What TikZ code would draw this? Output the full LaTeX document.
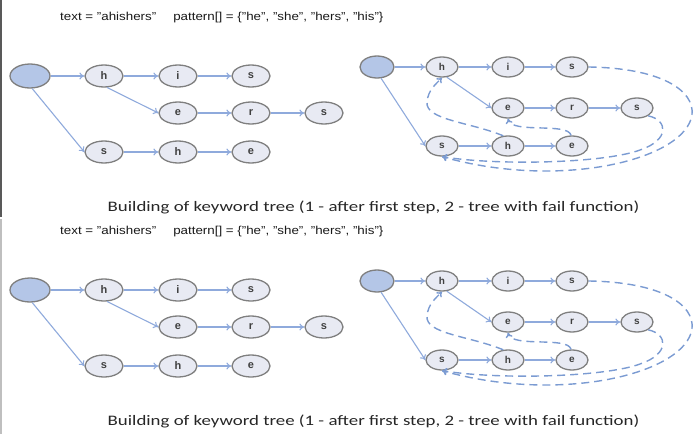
\documentclass[tikz,border=0pt]{standalone}
\usepackage{fontspec}
\setmainfont{Liberation Sans}
\newfontfamily\capfont{Carlito}
\usetikzlibrary{shapes.geometric,arrows.meta}
\definecolor{edgeblue}{HTML}{8FAADC}
\definecolor{dashblue}{HTML}{7B9BD2}
\definecolor{nodegray}{HTML}{7F7F7F}
\definecolor{nodefill}{HTML}{E8EAF3}
\definecolor{rootfill}{HTML}{B4C6E7}
\tikzset{
 lnode/.style={ellipse, draw=nodegray, line width=1.3pt, fill=nodefill, minimum width=38pt, minimum height=22pt, inner sep=0pt, font=\bfseries\fontsize{11}{11}\selectfont, text=black!75},
 rnode/.style={lnode, minimum width=32pt, minimum height=20pt, font=\bfseries\fontsize{10}{10}\selectfont},
 lroot/.style={lnode, fill=rootfill, minimum width=40pt, minimum height=24pt},
 rroot/.style={lnode, fill=rootfill, minimum width=34pt, minimum height=22pt},
 tedge/.style={draw=edgeblue, line width=1.1pt, -{To[length=5pt,width=7pt]}},
 fedge/.style={draw=dashblue, line width=1.4pt, dash pattern=on 8pt off 5pt, -{To[length=5pt,width=7pt]}},
 titletext/.style={font=\fontsize{11.5}{11.5}\selectfont, text=black!90, anchor=west, inner sep=0pt, xscale=1.16},
 captext/.style={font=\capfont\fontsize{14.5}{14.5}\selectfont, text=black!85, inner sep=0pt, xscale=1.3},
}
\newcommand\halfpic[2]{%
\begin{scope}[yshift=#2]
 \node[titletext] (#1title) at (60,18) {text = "ahishers"\quad\ pattern[] = \{"he", "she", "hers", "his"\}};
 \node[captext] (#1cap) at (373.5,207) {Building of keyword tree (1 - after first step, 2 - tree with fail function)};
 % left tree
 \node[lroot] (#1Lroot) at (30,76) {};
 \node[lnode] (#1Lh1) at (104,76) {h};
 \node[lnode] (#1Li1) at (178,76) {i};
 \node[lnode] (#1Ls1) at (251,76) {s};
 \node[lnode] (#1Le2) at (178,113) {e};
 \node[lnode] (#1Lr2) at (251,113) {r};
 \node[lnode] (#1Ls2) at (324,113) {s};
 \node[lnode] (#1Ls3) at (104,152) {s};
 \node[lnode] (#1Lh3) at (178,152) {h};
 \node[lnode] (#1Le3) at (251,152) {e};
 \draw[tedge] (#1Lroot) -- (#1Lh1);
 \draw[tedge] (#1Lh1) -- (#1Li1);
 \draw[tedge] (#1Li1) -- (#1Ls1);
 \draw[tedge] (#1Lh1.-75) -- (#1Le2.west);
 \draw[tedge] (#1Le2) -- (#1Lr2);
 \draw[tedge] (#1Lr2) -- (#1Ls2);
 \draw[tedge] (#1Lroot.-80) -- (#1Ls3.west);
 \draw[tedge] (#1Ls3) -- (#1Lh3);
 \draw[tedge] (#1Lh3) -- (#1Le3);
 % right tree
 \node[rroot] (#1Rroot) at (377,67) {};
 \node[rnode] (#1Rh1) at (442,67) {h};
 \node[rnode] (#1Ri1) at (508,67) {i};
 \node[rnode] (#1Rs1) at (572,67) {s};
 \node[rnode] (#1Re2) at (508,108) {e};
 \node[rnode] (#1Rr2) at (572,108) {r};
 \node[rnode] (#1Rs2) at (637,108) {s};
 \node[rnode] (#1Rs3) at (442,146) {s};
 \node[rnode] (#1Rh3) at (508,146) {h};
 \node[rnode] (#1Re3) at (572,146) {e};
 \draw[tedge] (#1Rroot) -- (#1Rh1);
 \draw[tedge] (#1Rh1) -- (#1Ri1);
 \draw[tedge] (#1Ri1) -- (#1Rs1);
 \draw[tedge] (#1Rh1.-65) -- (#1Re2.west);
 \draw[tedge] (#1Re2) -- (#1Rr2);
 \draw[tedge] (#1Rr2) -- (#1Rs2);
 \draw[tedge] (#1Rroot.-70) -- (#1Rs3.west);
 \draw[tedge] (#1Rs3) -- (#1Rh3);
 \draw[tedge] (#1Rh3) -- (#1Re3);
 % fail links
 \draw[fedge] (#1Rs1.east) .. controls (660,68) and (695,90) .. (692,115) .. controls (685,160) and (560,190) .. (#1Rs3.south);
 \draw[fedge] (#1Rs2.-35) .. controls (668,120) and (670,140) .. (640,150) .. controls (605,163) and (500,166) .. (#1Rs3.south);
 \draw[fedge] (#1Re3.95) .. controls (568,122) and (512,134) .. (#1Re2.south);
 \draw[fedge] (#1Rh3.115) .. controls (470,122) and (425,120) .. (427,102) .. controls (428,90) and (436,84) .. (#1Rh1.south);
\end{scope}}
\begin{document}
\begin{tikzpicture}[x=1pt,y=-1pt]
 \path[use as bounding box] (0,0) rectangle (694,434);
 \draw[black!65, line width=1.5pt] (1,0) -- (1,217);
 \draw[black!25, line width=1.5pt] (1,219) -- (1,434);
 \halfpic{A}{0pt}
 \halfpic{B}{-214pt}
\end{tikzpicture}
\end{document}
